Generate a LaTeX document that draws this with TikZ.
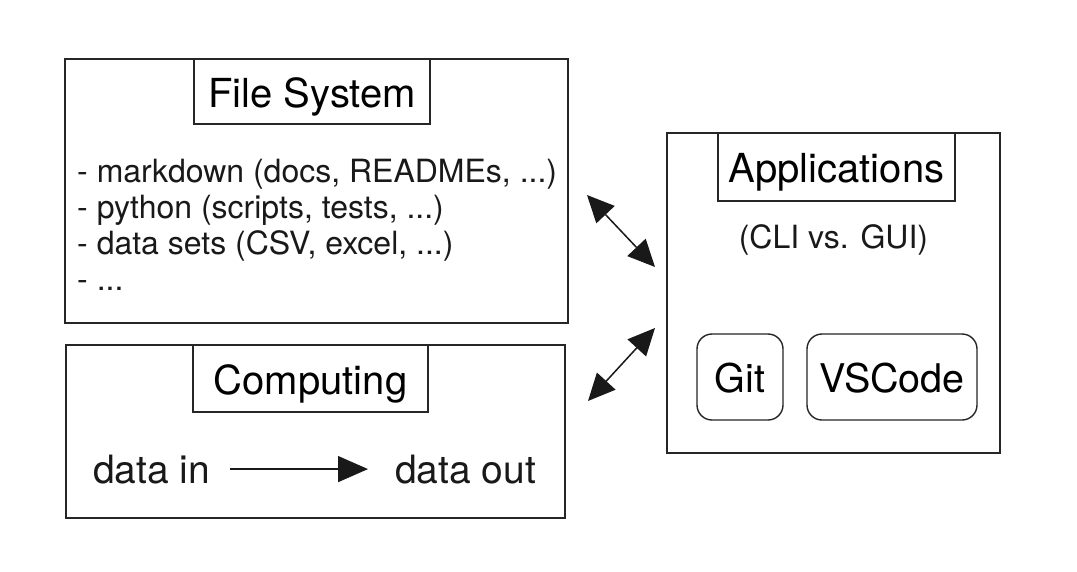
\documentclass[tikz,border=0pt]{standalone}
\usepackage{fontspec}
\setmainfont{TeX Gyre Heros}
\usetikzlibrary{arrows.meta}
\tikzset{
  bigbox/.style={draw=black!85, line width=1.6pt, rectangle, inner sep=0pt},
  titlebox/.style={draw=black!85, line width=1.4pt, rectangle, inner sep=0pt,
    text height=31pt, text depth=0pt, font=\fontsize{40}{48}\selectfont},
  appbox/.style={draw=black!85, line width=1.4pt, rectangle, rounded corners=15pt, inner sep=0pt,
    text height=30pt, text depth=0pt, font=\fontsize{39.5}{47}\selectfont},
  listtxt/.style={inner sep=0pt, font=\fontsize{32}{38}\selectfont, text=black!90},
  bigtxt/.style={inner sep=0pt, font=\fontsize{39}{47}\selectfont, text=black!90},
  dbl/.style={line width=1.5pt, draw=black!90, {Triangle[length=27pt,width=25pt]}-{Triangle[length=27pt,width=25pt]}},
  flow/.style={line width=1.5pt, draw=black!90, -{Triangle[length=30pt,width=26pt]}}
}
\begin{document}
\begin{tikzpicture}[x=1pt,y=-1pt]
\useasboundingbox[fill=white] (0,0) rectangle (1077,571);
% File System
\node[bigbox, minimum width=503pt, minimum height=264pt] (fs) at (316.5,191) {};
\node[titlebox, minimum width=236pt, minimum height=65pt] (fst) at (312,91.5) {File System};
\node[listtxt, anchor=base west] (l1) at (77,182) {- markdown (docs, READMEs, ...)};
\node[listtxt, anchor=base west] (l2) at (77,218) {- python (scripts, tests, ...)};
\node[listtxt, anchor=base west] (l3) at (77,254) {- data sets (CSV, excel, ...)};
\node[listtxt, anchor=base west] (l4) at (77,290) {- ...};
% Computing
\node[bigbox, minimum width=499pt, minimum height=173pt] (comp) at (315.5,431.5) {};
\node[titlebox, minimum width=235pt, minimum height=67pt] (compt) at (310.5,378.5) {Computing};
\node[bigtxt, anchor=base west] (din) at (93,483) {data in};
\node[bigtxt, anchor=base west] (dout) at (395,483) {data out};
\draw[flow] ([xshift=20pt]din.east) -- ([xshift=-27pt]dout.west);
% Applications
\node[bigbox, minimum width=333pt, minimum height=320pt] (apps) at (833.5,293) {};
\node[titlebox, minimum width=237pt, minimum height=68pt] (appt) at (836.5,167) {Applications};
\node[listtxt, anchor=base] (cli) at (833.5,248) {(CLI vs. GUI)};
\node[appbox, minimum width=86pt, minimum height=86pt] (git) at (740,377) {Git};
\node[appbox, minimum width=170pt, minimum height=86pt] (vsc) at (892,377) {VSCode};
% connectors
\coordinate (u1) at (587,195);
\coordinate (u2) at (655,267);
\coordinate (d1) at (588,401);
\coordinate (d2) at (655,328);
\draw[dbl] (u1) -- (u2);
\draw[dbl] (d1) -- (d2);
\end{tikzpicture}
\end{document}
